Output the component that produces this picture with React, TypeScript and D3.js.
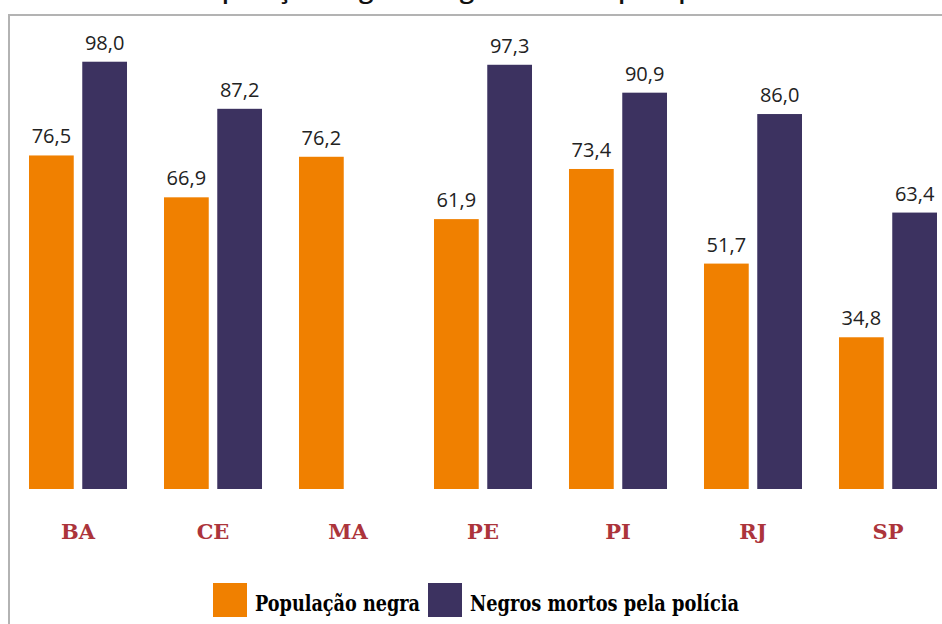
import React, { useRef, useEffect } from "react";
import * as d3 from "d3";

const states = ["BA", "CE", "MA", "PE", "PI", "RJ", "SP"];
const seriesKeys = ["pop", "mortos"];
const seriesLabels = ["População negra", "Negros mortos pela polícia"];
const populacaoNegra = [76.5, 66.9, 76.2, 61.9, 73.4, 51.7, 34.8];
const negrosMortos: (number | null)[] = [98.0, 87.2, null, 97.3, 90.9, 86.0, 63.4];
const title = "População negra e negros mortos pela polícia";

const colors = ["#F08000", "#3C3260"];

const App = () => {
  const svgRef = useRef<SVGSVGElement | null>(null);

  useEffect(() => {
    if (!svgRef.current) return;
    const svg = d3.select(svgRef.current);
    svg.selectAll("*").remove();

    const width = 942;
    const height = 624;
    const baseline = 489;

    // title, clipped by top edge as in the original
    svg
      .append("text")
      .attr("x", 190)
      .attr("y", -2)
      .style("font-family", "'Open Sans', sans-serif")
      .style("font-weight", 600)
      .style("font-size", "26px")
      .attr("fill", "#111")
      .text(title);

    // frame
    svg
      .append("path")
      .attr("d", `M9,${height} V15 H${width}`)
      .attr("fill", "none")
      .attr("stroke", "#b3b3b3")
      .attr("stroke-width", 2);

    const x0 = d3
      .scaleBand<string>()
      .domain(states)
      .range([29, 937])
      .paddingInner(0.274)
      .paddingOuter(0);

    const x1 = d3
      .scaleBand<string>()
      .domain(seriesKeys)
      .range([0, x0.bandwidth()])
      .paddingInner(0.16);

    const y = d3.scaleLinear().domain([0, 100]).range([baseline, 53]);

    const fmt = (v: number) => v.toFixed(1).replace(".", ",");

    const rows = states.map((s, i) => ({
      state: s,
      values: [
        { key: "pop", value: populacaoNegra[i] as number | null },
        { key: "mortos", value: negrosMortos[i] },
      ],
    }));

    const groups = svg
      .selectAll(".group")
      .data(rows)
      .enter()
      .append("g")
      .attr("class", "group")
      .attr("transform", (d) => `translate(${x0(d.state)},0)`);

    const bars = groups
      .selectAll(".bar")
      .data((d) => d.values.filter((v) => v.value !== null))
      .enter();

    bars
      .append("rect")
      .attr("x", (d) => x1(d.key) || 0)
      .attr("y", (d) => y(d.value as number))
      .attr("width", x1.bandwidth())
      .attr("height", (d) => baseline - y(d.value as number))
      .attr("fill", (d) => colors[seriesKeys.indexOf(d.key)]);

    bars
      .append("text")
      .attr("x", (d) => (x1(d.key) || 0) + x1.bandwidth() / 2)
      .attr("y", (d) => y(d.value as number) - 12)
      .attr("text-anchor", "middle")
      .style("font-family", "'Open Sans', sans-serif")
      .style("font-size", "20px")
      .attr("fill", "#222")
      .text((d) => fmt(d.value as number));

    // category labels
    svg
      .selectAll(".cat")
      .data(states)
      .enter()
      .append("text")
      .attr("class", "cat")
      .attr("x", (d) => (x0(d) || 0) + x0.bandwidth() / 2)
      .attr("y", 539)
      .attr("text-anchor", "middle")
      .style("font-family", "'DejaVu Serif', serif")
      .style("font-weight", 700)
      .style("font-size", "21px")
      .attr("fill", "#AC343B")
      .text((d) => d);

    // legend
    const legendX = [213, 428];
    const legendTextW = [165, 269];
    const legend = svg
      .selectAll(".legend")
      .data(seriesLabels)
      .enter()
      .append("g")
      .attr("class", "legend")
      .attr("transform", (_, i) => `translate(${legendX[i]},583)`);

    legend
      .append("rect")
      .attr("width", 34)
      .attr("height", 34)
      .attr("fill", (_, i) => colors[i]);

    legend
      .append("text")
      .attr("x", 42)
      .attr("y", 28)
      .attr("textLength", (_, i) => legendTextW[i])
      .attr("lengthAdjust", "spacingAndGlyphs")
      .style("font-family", "'DejaVu Serif', serif")
      .style("font-weight", 700)
      .style("font-size", "22px")
      .attr("fill", "#000")
      .text((d) => d);
  }, []);

  return (
    <svg
      ref={svgRef}
      width={942}
      height={624}
      style={{ position: "absolute", left: 0, top: 0, background: "#fff" }}
    />
  );
};

export default App;
